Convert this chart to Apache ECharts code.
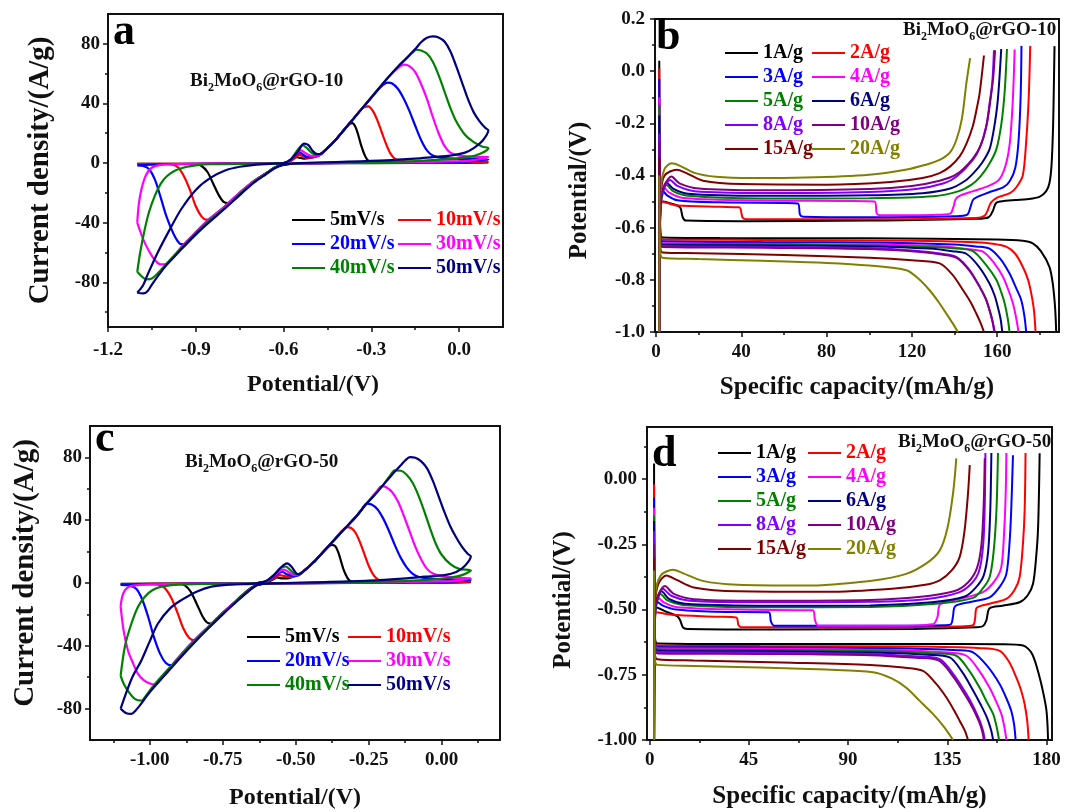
<!DOCTYPE html>
<html><head><meta charset="utf-8">
<script src="https://cdn.jsdelivr.net/npm/echarts@6/dist/echarts.min.js"></script>
<style>html,body{margin:0;padding:0;background:#fff}#c{width:1080px;height:812px}</style>
</head><body><div id="c"></div>
<script>
const FONT = '"Liberation Serif","Times New Roman",serif';

// ---------- categories / colours ----------
const cvRates = ['5mV/s','10mV/s','20mV/s','30mV/s','40mV/s','50mV/s'];
const cvColors = ['#000000','#ff0000','#0000ff','#ff00ff','#008000','#000080'];
const gcdRates = ['1A/g','2A/g','3A/g','4A/g','5A/g','6A/g','8A/g','10A/g','15A/g','20A/g'];
const gcdColors = ['#000000','#ff0000','#0000ff','#ff00ff','#008000','#000080','#8000ff','#800080','#800000','#808000'];

// ---------- tick labels ----------
const aXTicks = [-1.2,-0.9,-0.6,-0.3,0.0];
const aXMinor = [-1.05,-0.75,-0.45,-0.15];
const aYTicks = [-80,-40,0,40,80];
const aYMinor = [-100,-60,-20,20,60];
const bXTicks = [0,40,80,120,160];
const bXMinor = [20,60,100,140,180];
const bYTicks = [-1.0,-0.8,-0.6,-0.4,-0.2,0.0,0.2];
const bYMinor = [-0.9,-0.7,-0.5,-0.3,-0.1,0.1];
const cXTicks = [-1.0,-0.75,-0.5,-0.25,0.0];
const cXMinor = [-1.125,-0.875,-0.625,-0.375,-0.125,0.125];
const cYTicks = [-80,-40,0,40,80];
const cYMinor = [-60,-20,20,60];
const dXTicks = [0,45,90,135,180];
const dXMinor = [22.5,67.5,112.5,157.5];
const dYTicks = [-1.0,-0.75,-0.5,-0.25,0.0];
const dYMinor = [-0.875,-0.625,-0.375,-0.125,0.125];

// ---------- panel a : CV, Bi2MoO6@rGO-10 (potential V, current A/g) ----------
const cvA5 = [[-1.1,-0.6],[-0.9,-0.5],[-0.7,-0.3],[-0.6,0],[-0.58,1],[-0.565,3],[-0.555,4],[-0.545,3.5],[-0.53,3],[-0.51,3.5],[-0.48,5],[-0.45,10],[-0.42,16],[-0.39,23],[-0.375,26.3],[-0.365,26.8],[-0.355,24.5],[-0.345,19],[-0.335,12],[-0.322,5],[-0.31,1.5],[-0.29,0.5],[-0.2,0.3],[0,0.3],[0.1,0.4],
  [0.05,0.2],[0,0.1],[-0.3,0],[-0.55,-0.2],[-0.6,-1],[-0.63,-3],[-0.66,-7],[-0.7,-12],[-0.74,-19],[-0.77,-24.5],[-0.79,-26.8],[-0.805,-26],[-0.82,-22],[-0.84,-14],[-0.86,-6],[-0.88,-2],[-0.9,-0.8],[-0.95,-0.5],[-1.1,-0.6]];
const cvA10 = [[-1.1,-0.6],[-0.9,-0.5],[-0.7,-0.3],[-0.6,0],[-0.575,1.5],[-0.555,4.5],[-0.545,5.5],[-0.535,4.5],[-0.52,3.5],[-0.5,3.8],[-0.48,5],[-0.45,10],[-0.42,16],[-0.39,23],[-0.36,30],[-0.34,35],[-0.325,37.5],[-0.31,38],[-0.295,35],[-0.28,29],[-0.265,21],[-0.25,13],[-0.235,6.5],[-0.22,3],[-0.2,1.5],[-0.15,0.8],[0,0.8],[0.1,1],
  [0.05,0.4],[-0.2,0.1],[-0.55,-0.2],[-0.6,-1],[-0.63,-3],[-0.66,-7],[-0.7,-12],[-0.75,-20],[-0.8,-29],[-0.83,-34.5],[-0.85,-37.5],[-0.865,-38],[-0.88,-36],[-0.9,-29],[-0.92,-18],[-0.94,-9],[-0.96,-3],[-0.98,-1],[-1.0,-0.6],[-1.1,-0.6]];
const cvA20 = [[-1.1,-1.5],[-1.07,-1.2],[-1.0,-0.8],[-0.8,-0.4],[-0.6,0],[-0.575,2],[-0.555,6],[-0.545,7],[-0.535,6],[-0.52,4],[-0.5,4],[-0.48,5],[-0.45,10],[-0.42,16],[-0.39,23],[-0.36,30],[-0.33,37],[-0.3,44],[-0.28,48.5],[-0.26,52.5],[-0.244,54],[-0.23,53.5],[-0.21,50],[-0.19,43.5],[-0.17,35],[-0.15,25],[-0.13,15.5],[-0.11,8.5],[-0.09,5],[-0.06,3.5],[0,2.8],[0.1,2.5],
  [0.05,1.2],[0,0.8],[-0.2,0.3],[-0.55,-0.2],[-0.6,-1],[-0.63,-3],[-0.66,-7],[-0.7,-12],[-0.75,-20],[-0.8,-29],[-0.85,-37],[-0.9,-46.5],[-0.92,-51.5],[-0.94,-54.5],[-0.955,-54],[-0.975,-48],[-1.0,-36],[-1.02,-23],[-1.04,-11],[-1.06,-4],[-1.08,-2],[-1.1,-1.5]];
const cvA30 = [[-1.1,-40],[-1.095,-28],[-1.085,-17],[-1.07,-8],[-1.05,-3],[-1.02,-1.2],[-0.95,-0.6],[-0.8,-0.4],[-0.6,0],[-0.575,2],[-0.555,6.5],[-0.54,8.5],[-0.528,7],[-0.51,5],[-0.49,4.5],[-0.47,6],[-0.45,10],[-0.42,16],[-0.39,23],[-0.36,30],[-0.33,37],[-0.3,44],[-0.27,51],[-0.24,58],[-0.22,62],[-0.2,65],[-0.187,66],[-0.17,65],[-0.15,61],[-0.13,53],[-0.11,43],[-0.09,31],[-0.07,20],[-0.05,11.5],[-0.03,7],[0,5],[0.05,4.2],[0.1,4],
  [0.05,2],[0,1.3],[-0.2,0.5],[-0.55,-0.2],[-0.6,-1],[-0.63,-3],[-0.66,-7],[-0.7,-12],[-0.75,-20],[-0.8,-29],[-0.85,-37],[-0.9,-46.5],[-0.95,-56.5],[-0.975,-63],[-1.0,-67.5],[-1.02,-68],[-1.04,-65],[-1.06,-59],[-1.08,-51],[-1.1,-40]];
const cvA40 = [[-1.1,-73],[-1.09,-60],[-1.075,-45],[-1.06,-33],[-1.04,-22],[-1.02,-14],[-1.0,-9],[-0.97,-5],[-0.93,-2.5],[-0.9,-1.5],[-0.85,-0.8],[-0.7,-0.4],[-0.6,0],[-0.575,2.5],[-0.555,8],[-0.535,12],[-0.52,10],[-0.505,7],[-0.49,5.5],[-0.47,6.5],[-0.45,10],[-0.42,16],[-0.39,23],[-0.36,30],[-0.33,37],[-0.3,44],[-0.27,51],[-0.24,58],[-0.21,64.5],[-0.18,70],[-0.16,74],[-0.145,76],[-0.13,75.5],[-0.11,73.5],[-0.09,68],[-0.07,59],[-0.05,48],[-0.03,37],[-0.01,28],[0.02,19],[0.05,14],[0.08,11],[0.1,10],
  [0.07,6],[0.03,4],[-0.05,2.5],[-0.2,1],[-0.4,0.4],[-0.55,-0.2],[-0.6,-1],[-0.63,-3],[-0.66,-7],[-0.7,-12.5],[-0.75,-21],[-0.8,-30],[-0.85,-38],[-0.9,-47],[-0.95,-57],[-1.0,-67.5],[-1.03,-74],[-1.05,-77.5],[-1.07,-78],[-1.085,-76],[-1.1,-73]];
const cvA50 = [[-1.1,-87],[-1.08,-82],[-1.065,-75],[-1.03,-60],[-0.99,-45],[-0.95,-31],[-0.9,-18],[-0.85,-10],[-0.8,-5],[-0.75,-2.5],[-0.7,-1.2],[-0.63,-0.3],[-0.6,0],[-0.575,2.5],[-0.55,8],[-0.53,13],[-0.515,12],[-0.5,8],[-0.485,6],[-0.47,6.5],[-0.45,10],[-0.42,16],[-0.39,23],[-0.36,30],[-0.33,37],[-0.3,44],[-0.27,51],[-0.24,58],[-0.21,64.5],[-0.18,70.5],[-0.15,76.5],[-0.13,81],[-0.11,84],[-0.09,85],[-0.07,84.3],[-0.05,81.5],[-0.03,75],[-0.01,65],[0.01,54],[0.03,43],[0.05,34],[0.07,28],[0.09,23.5],[0.1,22],
  [0.08,15],[0.05,10],[0.02,7],[-0.03,5],[-0.09,4],[-0.15,3],[-0.25,1.8],[-0.4,0.8],[-0.55,0],[-0.6,-1.2],[-0.63,-3.5],[-0.66,-7.5],[-0.7,-13],[-0.75,-21.5],[-0.8,-30.5],[-0.85,-39],[-0.9,-48],[-0.95,-58],[-1.0,-68.5],[-1.03,-76],[-1.05,-81.5],[-1.065,-86],[-1.08,-87.5],[-1.1,-87]];

// ---------- panel c : CV, Bi2MoO6@rGO-50 ----------
const cvC5 = [[-1.1,-0.5],[-0.9,-0.4],[-0.7,-0.2],[-0.63,0],[-0.6,0.5],[-0.575,2.5],[-0.565,3.5],[-0.55,3],[-0.53,3],[-0.51,4],[-0.49,5.5],[-0.46,9.5],[-0.43,15],[-0.405,20],[-0.39,22.7],[-0.377,24.3],[-0.365,23.5],[-0.355,20],[-0.345,14],[-0.335,8],[-0.322,3],[-0.31,1],[-0.28,0.4],[0.1,0.5],
  [0,0.1],[-0.3,0],[-0.58,-0.2],[-0.63,-1],[-0.66,-4],[-0.7,-10.5],[-0.74,-17.5],[-0.77,-23],[-0.79,-25.8],[-0.805,-25],[-0.82,-21],[-0.84,-13],[-0.86,-5.5],[-0.88,-1.5],[-0.9,-0.6],[-1.1,-0.5]];
const cvC10 = [[-1.1,-0.8],[-1.0,-0.6],[-0.8,-0.3],[-0.63,0],[-0.6,0.8],[-0.575,3],[-0.555,5],[-0.54,4.5],[-0.52,3.8],[-0.5,4.5],[-0.47,8],[-0.44,13],[-0.41,19],[-0.38,25],[-0.355,30.5],[-0.34,33.5],[-0.326,35.6],[-0.31,35],[-0.295,32],[-0.28,26],[-0.265,18.5],[-0.25,11],[-0.235,5.5],[-0.22,2.5],[-0.2,1.3],[-0.1,0.8],[0.1,1],
  [0.05,0.4],[-0.2,0.1],[-0.58,-0.2],[-0.63,-1],[-0.66,-4.5],[-0.7,-11],[-0.75,-19],[-0.8,-28],[-0.825,-33],[-0.846,-36.5],[-0.865,-35],[-0.885,-29],[-0.905,-19],[-0.925,-10],[-0.945,-4],[-0.965,-1.2],[-1.0,-0.7],[-1.1,-0.8]];
const cvC20 = [[-1.1,-1.2],[-1.07,-1],[-1.0,-0.7],[-0.8,-0.3],[-0.63,0],[-0.6,1],[-0.575,4],[-0.555,6.5],[-0.545,7],[-0.53,5.5],[-0.51,4.5],[-0.49,5],[-0.47,8],[-0.44,13],[-0.41,19],[-0.38,25],[-0.35,31],[-0.32,37],[-0.29,43],[-0.275,46.5],[-0.257,50.6],[-0.24,50],[-0.22,47],[-0.2,41],[-0.18,33],[-0.16,24],[-0.14,16],[-0.12,10],[-0.1,6],[-0.08,4],[-0.04,2.8],[0.1,2],
  [0.05,1],[-0.1,0.4],[-0.58,-0.2],[-0.63,-1],[-0.66,-4.5],[-0.7,-11],[-0.75,-19],[-0.8,-28],[-0.85,-37],[-0.89,-45],[-0.91,-49.5],[-0.926,-52.5],[-0.945,-51],[-0.965,-45],[-0.985,-35],[-1.005,-22],[-1.025,-11],[-1.045,-4],[-1.065,-1.8],[-1.1,-1.2]];
const cvC30 = [[-1.1,-15],[-1.095,-9],[-1.085,-4.5],[-1.07,-2.3],[-1.05,-1.5],[-1.0,-0.8],[-0.8,-0.4],[-0.63,0],[-0.6,1.2],[-0.575,4.5],[-0.555,7.5],[-0.54,8.5],[-0.525,7],[-0.505,5],[-0.49,5],[-0.47,8],[-0.44,13],[-0.41,19],[-0.38,25],[-0.35,31],[-0.32,37],[-0.29,43],[-0.26,50],[-0.24,54.5],[-0.22,59],[-0.206,61.7],[-0.19,61],[-0.17,58],[-0.15,52],[-0.13,43],[-0.11,33],[-0.09,23],[-0.07,15],[-0.05,9],[-0.03,6],[0,4.5],[0.05,3.3],[0.1,3],
  [0.05,1.5],[0,1],[-0.2,0.4],[-0.58,-0.2],[-0.63,-1],[-0.66,-4.5],[-0.7,-11],[-0.75,-19],[-0.8,-28],[-0.85,-37],[-0.9,-47],[-0.94,-56],[-0.965,-61.5],[-0.983,-64.6],[-1.0,-64],[-1.02,-62],[-1.04,-58],[-1.06,-50],[-1.075,-43],[-1.09,-30],[-1.1,-15]];
const cvC40 = [[-1.1,-59],[-1.085,-40],[-1.063,-25.8],[-1.04,-15],[-1.017,-8.7],[-0.99,-4.5],[-0.96,-2.3],[-0.9,-1],[-0.8,-0.5],[-0.63,0],[-0.6,1.3],[-0.575,5],[-0.555,9],[-0.535,10.5],[-0.52,8.5],[-0.505,6],[-0.49,5.3],[-0.47,8],[-0.44,13],[-0.41,19],[-0.38,25],[-0.35,31],[-0.32,37],[-0.29,43],[-0.26,50],[-0.23,56],[-0.2,62.5],[-0.18,67.5],[-0.16,71.7],[-0.14,71.5],[-0.12,69],[-0.1,64],[-0.08,56],[-0.06,46],[-0.04,35],[-0.02,25],[0,18],[0.03,12],[0.06,9],[0.1,8],
  [0.07,5],[0.03,3.5],[-0.05,2],[-0.2,0.8],[-0.58,-0.2],[-0.63,-1],[-0.66,-4.5],[-0.7,-11],[-0.75,-19.5],[-0.8,-28.5],[-0.85,-37.5],[-0.9,-47.5],[-0.95,-57.5],[-0.99,-66],[-1.01,-71],[-1.029,-74.9],[-1.05,-74],[-1.07,-70],[-1.09,-64],[-1.1,-59]];
const cvC50 = [[-1.1,-80],[-1.085,-72],[-1.06,-60],[-1.029,-49.3],[-1.0,-37],[-0.972,-25.8],[-0.93,-16],[-0.892,-10.9],[-0.84,-5.5],[-0.789,-2.3],[-0.72,-1],[-0.652,-0.6],[-0.63,0],[-0.6,1.5],[-0.575,5],[-0.55,10],[-0.53,12.5],[-0.515,10.5],[-0.5,6.5],[-0.49,5.5],[-0.47,8],[-0.44,13],[-0.41,19],[-0.38,25],[-0.35,31],[-0.32,37],[-0.29,43],[-0.26,50],[-0.23,56],[-0.2,62.5],[-0.17,69],[-0.14,75],[-0.125,78],[-0.109,80.2],[-0.09,79.8],[-0.07,77.5],[-0.05,73],[-0.03,65],[-0.01,55],[0.01,45],[0.03,36],[0.05,29],[0.07,23],[0.09,18.5],[0.1,17],
  [0.08,11],[0.05,7],[0.01,5],[-0.057,4],[-0.12,3],[-0.25,1.5],[-0.4,0.6],[-0.58,-0.2],[-0.63,-1.2],[-0.66,-5],[-0.7,-11.5],[-0.75,-20],[-0.8,-29],[-0.85,-38.5],[-0.9,-48.5],[-0.95,-59],[-1.0,-69.5],[-1.03,-77],[-1.05,-81.5],[-1.063,-83.4],[-1.08,-83],[-1.1,-80]];

// ---------- panel b : GCD, Bi2MoO6@rGO-10 (capacity mAh/g, potential V) ----------
const chB1 = [[1.5,-1.0],[1.6,-0.75],[2,-0.55],[3,-0.5],[6,-0.505],[10,-0.515],[11.5,-0.525],[12.5,-0.56],[14,-0.573],[40,-0.575],[100,-0.573],[150,-0.566],[156,-0.56],[158,-0.535],[159.5,-0.505],[163,-0.498],[175,-0.49],[180,-0.481],[183,-0.46],[184.5,-0.43],[185.5,-0.36],[186.2,-0.22],[186.6,-0.05],[186.9,0.096]];
const chB2 = [[1.5,-1.0],[1.6,-0.75],[2,-0.56],[3,-0.5],[5,-0.505],[10,-0.515],[30,-0.52],[39,-0.522],[40.5,-0.56],[42,-0.567],[100,-0.568],[150,-0.563],[154,-0.555],[155.5,-0.535],[157,-0.505],[160,-0.485],[166,-0.468],[169,-0.445],[172,-0.4],[173.6,-0.27],[174.8,-0.1],[175.5,0.097]];
const chB3 = [[1.5,-1.0],[1.6,-0.72],[2,-0.54],[3.4,-0.46],[5,-0.475],[10,-0.495],[30,-0.503],[60,-0.505],[66.5,-0.507],[67.5,-0.55],[69,-0.558],[100,-0.56],[140,-0.556],[146,-0.55],[147.5,-0.52],[149,-0.49],[156,-0.465],[163,-0.445],[166,-0.42],[168.5,-0.37],[170,-0.27],[171,-0.1],[171.4,0.097]];
const chB4 = [[1.5,-1.0],[1.6,-0.72],[2,-0.53],[4.2,-0.449],[6,-0.465],[12,-0.485],[40,-0.495],[90,-0.498],[102.5,-0.5],[103.5,-0.545],[105,-0.552],[130,-0.551],[138,-0.546],[139.5,-0.52],[141,-0.485],[148,-0.462],[156,-0.44],[161,-0.415],[164,-0.36],[166,-0.27],[167.4,-0.1],[168.2,0.083]];
const chB5 = [[1.5,-1.0],[1.6,-0.72],[2,-0.52],[5,-0.436],[8,-0.46],[15,-0.478],[50,-0.488],[100,-0.487],[130,-0.48],[142,-0.46],[148,-0.435],[152,-0.405],[156,-0.36],[159.6,-0.3],[162,-0.2],[163.5,-0.08],[164.6,0.085]];
const chB6 = [[1.5,-1.0],[1.6,-0.72],[2,-0.51],[5,-0.427],[8,-0.45],[15,-0.47],[50,-0.478],[100,-0.476],[125,-0.468],[138,-0.45],[145,-0.42],[149,-0.39],[153,-0.35],[156.4,-0.3],[158.5,-0.22],[160.3,-0.11],[161.9,0.085]];
const chB8 = [[1.5,-1.0],[1.6,-0.7],[2,-0.5],[6.6,-0.417],[10,-0.44],[18,-0.46],[50,-0.467],[100,-0.463],[122,-0.452],[135,-0.43],[141,-0.404],[148.6,-0.34],[152,-0.29],[154.9,-0.21],[156.5,-0.12],[157.7,-0.045],[158.5,0.08]];
const chB10 = [[1.5,-1.0],[1.6,-0.7],[2,-0.49],[7.3,-0.404],[11,-0.43],[20,-0.45],[50,-0.457],[100,-0.452],[120,-0.44],[133,-0.42],[141,-0.395],[148.6,-0.335],[152.5,-0.28],[155.2,-0.2],[157,-0.1],[158.2,-0.02],[159,0.08]];
const chB15 = [[1.5,-1.0],[1.6,-0.68],[2.2,-0.47],[4,-0.4],[9.7,-0.378],[14,-0.39],[22,-0.42],[40,-0.433],[80,-0.435],[110,-0.425],[125,-0.41],[133,-0.391],[138,-0.365],[142.4,-0.327],[145.5,-0.28],[148.6,-0.21],[150.5,-0.14],[151.8,-0.083],[153.8,0.06]];
const chB20 = [[1.5,-1.0],[1.6,-0.66],[2.2,-0.45],[4,-0.375],[7.3,-0.353],[11,-0.362],[18,-0.39],[28,-0.405],[45,-0.41],[70,-0.408],[100,-0.397],[117,-0.378],[126,-0.36],[133,-0.34],[138,-0.31],[141,-0.26],[143.5,-0.18],[145.5,-0.05],[147.3,0.05]];
const diB1 = [[1.5,0.04],[1.6,-0.3],[1.9,-0.6],[3,-0.638],[30,-0.64],[100,-0.641],[160,-0.645],[172,-0.65],[176.7,-0.66],[180.5,-0.69],[184.5,-0.75],[186,-0.81],[186.9,-0.878],[187.4,-0.94],[187.7,-1.0]];
const diB2 = [[1.5,0.01],[1.6,-0.3],[1.9,-0.6],[3,-0.645],[50,-0.647],[120,-0.65],[150,-0.656],[158,-0.662],[164.2,-0.673],[168.5,-0.7],[172,-0.75],[174.5,-0.8],[176,-0.853],[177.3,-0.92],[178,-1.0]];
const diB3 = [[1.5,-0.03],[1.6,-0.3],[1.9,-0.6],[3,-0.652],[50,-0.655],[110,-0.658],[140,-0.665],[150,-0.672],[156.4,-0.68],[161.5,-0.72],[165.8,-0.776],[168.8,-0.83],[171.3,-0.878],[172.8,-0.94],[173.6,-1.0]];
const diB4 = [[1.5,-0.1],[1.6,-0.35],[1.9,-0.62],[3,-0.66],[50,-0.662],[100,-0.665],[135,-0.672],[146,-0.682],[153.3,-0.692],[158.5,-0.735],[162.7,-0.788],[165.3,-0.84],[167.4,-0.891],[169,-0.95],[170,-1.0]];
const diB5 = [[1.5,-0.13],[1.6,-0.35],[1.9,-0.62],[3,-0.663],[50,-0.665],[100,-0.668],[130,-0.675],[141,-0.68],[148.6,-0.69],[154.5,-0.74],[159.6,-0.8],[162,-0.85],[163.5,-0.89],[165,-0.95],[165.8,-1.0]];
const diB6 = [[1.5,-0.17],[1.6,-0.38],[1.9,-0.63],[3,-0.666],[50,-0.668],[100,-0.672],[128,-0.68],[139,-0.69],[145.5,-0.7],[151.5,-0.75],[156.4,-0.814],[158.8,-0.86],[160.3,-0.904],[161.6,-0.95],[162.4,-1.0]];
const diB8 = [[1.5,-0.24],[1.6,-0.42],[1.9,-0.64],[3,-0.67],[50,-0.673],[100,-0.678],[124,-0.69],[134,-0.7],[140.8,-0.712],[146.8,-0.76],[151.8,-0.827],[154.5,-0.87],[156.4,-0.917],[157.8,-0.96],[158.6,-1.0]];
const diB10 = [[1.5,-0.27],[1.6,-0.44],[1.9,-0.645],[3,-0.674],[50,-0.677],[100,-0.682],[124,-0.693],[134,-0.703],[141,-0.716],[147,-0.765],[152,-0.83],[154.8,-0.875],[156.6,-0.92],[158,-0.965],[158.9,-1.0]];
const diB15 = [[1.5,-0.33],[1.6,-0.48],[1.9,-0.66],[3,-0.695],[20,-0.698],[60,-0.705],[100,-0.715],[120,-0.725],[133,-0.737],[139,-0.78],[144,-0.84],[147.5,-0.885],[150.2,-0.929],[152.2,-0.965],[153.8,-1.0]];
const diB20 = [[1.5,-0.4],[1.6,-0.52],[1.9,-0.68],[3,-0.715],[20,-0.72],[50,-0.727],[80,-0.735],[100,-0.745],[117.4,-0.763],[123,-0.795],[128.3,-0.84],[132.5,-0.885],[136.1,-0.929],[139,-0.965],[141.6,-1.0]];

// ---------- panel d : GCD, Bi2MoO6@rGO-50 ----------
const chD1 = [[2,-1.0],[2.1,-0.75],[2.4,-0.55],[3,-0.491],[8,-0.51],[12.5,-0.525],[13.8,-0.54],[15.1,-0.568],[17,-0.574],[60,-0.576],[120,-0.574],[148,-0.568],[151.2,-0.563],[152.7,-0.542],[154.2,-0.495],[160,-0.485],[167.8,-0.472],[171.5,-0.445],[173.9,-0.401],[175.3,-0.3],[176.2,-0.183],[176.9,0.099]];
const chD2 = [[2,-1.0],[2.1,-0.75],[2.4,-0.56],[3,-0.51],[10,-0.52],[30,-0.527],[39.3,-0.53],[40.3,-0.56],[42,-0.568],[100,-0.568],[140,-0.565],[146.7,-0.56],[147.6,-0.535],[148.4,-0.493],[155,-0.476],[161.8,-0.459],[165.5,-0.425],[167.8,-0.376],[169.3,-0.25],[170.1,-0.119],[170.5,0.1]];
const chD3 = [[2,-1.0],[2.1,-0.73],[2.4,-0.54],[3.5,-0.47],[6,-0.485],[12,-0.5],[30,-0.508],[54,-0.51],[55,-0.545],[56.5,-0.562],[100,-0.562],[134,-0.56],[136.8,-0.555],[137.6,-0.525],[138.6,-0.487],[146,-0.47],[154.2,-0.453],[159,-0.41],[161.8,-0.363],[163.2,-0.25],[164,-0.119],[164.8,0.092]];
const chD4 = [[2,-1.0],[2.1,-0.73],[2.4,-0.53],[4,-0.455],[6,-0.47],[12,-0.49],[40,-0.5],[74,-0.503],[75,-0.54],[76.5,-0.562],[110,-0.562],[128.5,-0.556],[130.5,-0.53],[131.8,-0.48],[140,-0.46],[151.2,-0.433],[156.5,-0.39],[159.5,-0.337],[160.8,-0.2],[161.5,-0.055],[161.8,0.1]];
const chD5 = [[2,-1.0],[2.1,-0.72],[2.4,-0.52],[5,-0.44],[8,-0.465],[15,-0.482],[50,-0.491],[100,-0.49],[130,-0.478],[146.7,-0.455],[151,-0.42],[154.2,-0.376],[156,-0.28],[157.3,-0.119],[158,0.1]];
const chD6 = [[2,-1.0],[2.1,-0.72],[2.4,-0.51],[5.5,-0.43],[9,-0.46],[16,-0.478],[50,-0.485],[100,-0.484],[128,-0.472],[143,-0.45],[148,-0.415],[151.5,-0.37],[153.5,-0.28],[154.5,-0.12],[155,0.1]];
const chD8 = [[2,-1.0],[2.1,-0.7],[2.4,-0.5],[6,-0.42],[10,-0.448],[18,-0.466],[50,-0.472],[100,-0.47],[125,-0.46],[140,-0.435],[146,-0.4],[149.5,-0.35],[151.3,-0.25],[152,-0.1],[152.3,0.1]];
const chD10 = [[2,-1.0],[2.1,-0.7],[2.4,-0.49],[7,-0.41],[11,-0.44],[20,-0.46],[50,-0.466],[100,-0.463],[122,-0.452],[138,-0.43],[144.5,-0.395],[148.5,-0.34],[150.5,-0.25],[151.5,-0.1],[152,0.08]];
const chD15 = [[2,-1.0],[2.1,-0.68],[2.5,-0.47],[4,-0.4],[7.6,-0.369],[12,-0.385],[20,-0.415],[40,-0.43],[80,-0.432],[110,-0.42],[125,-0.405],[131.6,-0.388],[137,-0.35],[140.6,-0.299],[142.8,-0.2],[144.4,-0.055],[145.2,0.054]];
const chD20 = [[2,-1.0],[2.1,-0.66],[2.5,-0.45],[5,-0.37],[10.6,-0.347],[15,-0.36],[24,-0.39],[40,-0.405],[70,-0.408],[100,-0.39],[116.4,-0.363],[126,-0.32],[131.6,-0.273],[135,-0.19],[137.6,-0.055],[139.1,0.08]];
const diD1 = [[2,0.06],[2.1,-0.3],[2.4,-0.6],[3.5,-0.63],[40,-0.632],[120,-0.632],[160,-0.633],[169.4,-0.638],[173.5,-0.67],[176.9,-0.76],[178.8,-0.83],[180,-0.888],[180.5,-0.95],[180.7,-1.0]];
const diD2 = [[2,-0.02],[2.1,-0.3],[2.4,-0.61],[3.5,-0.638],[50,-0.64],[120,-0.642],[150,-0.648],[158.8,-0.658],[163,-0.7],[166.3,-0.76],[168.5,-0.81],[170.1,-0.863],[171.3,-0.93],[171.9,-1.0]];
const diD3 = [[2,-0.07],[2.1,-0.32],[2.4,-0.62],[3.5,-0.643],[50,-0.645],[110,-0.648],[140,-0.656],[146.7,-0.664],[153,-0.715],[158.8,-0.786],[161.8,-0.84],[164,-0.888],[165.3,-0.94],[166,-1.0]];
const diD4 = [[2,-0.11],[2.1,-0.35],[2.4,-0.63],[3.5,-0.648],[50,-0.65],[110,-0.655],[135,-0.665],[143.7,-0.677],[149.5,-0.735],[154.2,-0.8],[157.3,-0.855],[159.5,-0.9],[160.9,-0.95],[161.8,-1.0]];
const diD5 = [[2,-0.14],[2.1,-0.36],[2.4,-0.63],[3.5,-0.653],[50,-0.655],[105,-0.66],[130,-0.668],[139.1,-0.677],[145,-0.735],[149.7,-0.8],[153,-0.855],[155.8,-0.9],[157.4,-0.95],[158.5,-1.0]];
const diD6 = [[2,-0.16],[2.1,-0.38],[2.4,-0.64],[3.5,-0.658],[50,-0.66],[100,-0.665],[126,-0.673],[136.1,-0.683],[141.8,-0.74],[146.7,-0.81],[150.2,-0.865],[153,-0.914],[154.8,-0.96],[155.8,-1.0]];
const diD8 = [[2,-0.2],[2.1,-0.4],[2.4,-0.645],[3.5,-0.663],[50,-0.665],[100,-0.67],[122,-0.68],[131.6,-0.69],[138,-0.75],[143.7,-0.824],[147,-0.875],[149.7,-0.926],[151.2,-0.965],[152,-1.0]];
const diD10 = [[2,-0.25],[2.1,-0.43],[2.4,-0.65],[3.5,-0.668],[50,-0.67],[100,-0.675],[121,-0.685],[131,-0.695],[137.5,-0.755],[143.3,-0.83],[146.7,-0.88],[149.4,-0.93],[150.8,-0.965],[151.6,-1.0]];
const diD15 = [[2,-0.3],[2.1,-0.47],[2.4,-0.67],[3.5,-0.69],[20,-0.695],[60,-0.703],[100,-0.712],[115,-0.722],[124,-0.735],[130,-0.785],[134.6,-0.837],[138,-0.885],[140.6,-0.926],[143,-0.965],[144.4,-1.0]];
const diD20 = [[2,-0.35],[2.1,-0.5],[2.4,-0.69],[3.5,-0.712],[20,-0.716],[50,-0.722],[80,-0.73],[101.3,-0.74],[110,-0.765],[116.4,-0.8],[122.5,-0.85],[128.5,-0.9],[133.5,-0.95],[137.6,-1.0]];

// ---------- build option ----------
const cvAData = [cvA5,cvA10,cvA20,cvA30,cvA40,cvA50];
const cvCData = [cvC5,cvC10,cvC20,cvC30,cvC40,cvC50];
const chBData = [chB1,chB2,chB3,chB4,chB5,chB6,chB8,chB10,chB15,chB20];
const diBData = [diB1,diB2,diB3,diB4,diB5,diB6,diB8,diB10,diB15,diB20];
const chDData = [chD1,chD2,chD3,chD4,chD5,chD6,chD8,chD10,chD15,chD20];
const diDData = [diD1,diD2,diD3,diD4,diD5,diD6,diD8,diD10,diD15,diD20];

const tickFont = {fontFamily: FONT, fontWeight: 'bold', fontSize: 19, color: '#111'};
function axisPair(dim, gi, min, max, ticks, minor, fmt, margin, name, nameGap, nameSize, namePad) {
  const pos = dim === 'x' ? 'bottom' : 'left';
  const main = {
    type: 'value', gridIndex: gi, min: min, max: max, position: pos,
    splitLine: {show: false},
    axisLine: {show: true, onZero: false, lineStyle: {color: '#111', width: 2}},
    axisTick: {show: true, inside: false, length: 5, customValues: ticks, lineStyle: {color: '#111', width: 1.5}},
    axisLabel: Object.assign({show: true, customValues: ticks, formatter: fmt, margin: margin}, tickFont),
    name: name, nameLocation: 'middle', nameGap: nameGap, nameMoveOverlap: false,
    nameTextStyle: {fontFamily: FONT, fontWeight: 'bold', fontSize: nameSize, color: '#111', padding: namePad}
  };
  const mnr = {
    type: 'value', gridIndex: gi, min: min, max: max, position: pos,
    splitLine: {show: false},
    axisLine: {show: false, onZero: false},
    axisTick: {show: true, inside: false, length: 3, customValues: minor, lineStyle: {color: '#111', width: 1.5}},
    axisLabel: {show: false}
  };
  return [main, mnr];
}
const f1 = v => v.toFixed(1), f2 = v => v.toFixed(2), f0 = v => String(Math.round(v));

const xAxes = [].concat(
  axisPair('x', 0, -1.2, 0.15, aXTicks, aXMinor, f1, 14, 'Potential/(V)', 46, 24, [0,0,0,15]),
  axisPair('x', 1, -0.5, 189, bXTicks, bXMinor, f0, 11, 'Specific capacity/(mAh/g)', 43, 25, 0),
  axisPair('x', 2, -1.205, 0.2, cXTicks, cXMinor, f2, 11, 'Potential/(V)', 46, 24, 0),
  axisPair('x', 3, -1.2, 182.5, dXTicks, dXMinor, f0, 11, 'Specific capacity/(mAh/g)', 44, 25, 0)
);
const yAxes = [].concat(
  axisPair('y', 0, -110, 100, aYTicks, aYMinor, f0, 8, 'Current density/(A/g)', 53, 29, 0),
  axisPair('y', 1, -1.0, 0.2, bYTicks, bYMinor, f1, 10, 'Potential/(V)', 63, 25, [0,30,0,0]),
  axisPair('y', 2, -100, 100, cYTicks, cYMinor, f0, 8, 'Current density/(A/g)', 50, 29, [0,0,0,20]),
  axisPair('y', 3, -1.0, 0.2, dYTicks, dYMinor, f2, 10, 'Potential/(V)', 71, 25, [0,33,0,0])
);

const series = [];
function addLines(names, colors, curves, axisIdx, width) {
  curves.forEach((c, i) => {
    series.push({
      type: 'line', name: names[i], xAxisIndex: axisIdx, yAxisIndex: axisIdx, data: c,
      symbol: 'none', showSymbol: false, smooth: 0.3, clip: true, silent: true,
      lineStyle: {width: width, color: colors[i]}, itemStyle: {color: colors[i]},
      emphasis: {disabled: true}
    });
  });
}
addLines(cvRates, cvColors, cvAData, 0, 2.2);
addLines(gcdRates, gcdColors, chBData, 2, 2);
addLines(gcdRates, gcdColors, diBData, 2, 2);
addLines(cvRates, cvColors, cvCData, 4, 2.2);
addLines(gcdRates, gcdColors, chDData, 6, 2);
addLines(gcdRates, gcdColors, diDData, 6, 2);

function legend(idxs, names, colors, left, top) {
  return {
    orient: 'vertical', left: left, top: top, padding: 0, itemGap: 4, itemWidth: 33, itemHeight: 2,
    icon: 'rect', selectedMode: false,
    data: idxs.map(i => ({name: names[i], textStyle: {color: colors[i]}})),
    textStyle: {fontFamily: FONT, fontWeight: 'bold', fontSize: 20, lineHeight: 20}
  };
}
const legends = [
  legend([0,2,4], cvRates, cvColors, 292, 210),
  legend([1,3,5], cvRates, cvColors, 398, 210),
  legend([0,2,4,6,8], gcdRates, gcdColors, 725, 43),
  legend([1,3,5,7,9], gcdRates, gcdColors, 812, 43),
  legend([0,2,4], cvRates, cvColors, 247, 627),
  legend([1,3,5], cvRates, cvColors, 348, 627),
  legend([0,2,4,6,8], gcdRates, gcdColors, 718, 443),
  legend([1,3,5,7,9], gcdRates, gcdColors, 808, 443)
];

function letter(t, x, y) {
  return {type: 'text', x: x, y: y, silent: true, z: 100,
    style: {text: t, fontFamily: FONT, fontWeight: 'bold', fontSize: 44, fill: '#000', align: 'left', verticalAlign: 'middle'}};
}
function sample(t, x, y) {
  return {type: 'text', x: x, y: y, silent: true, z: 100,
    style: {text: t, align: 'left', verticalAlign: 'middle', fill: '#111',
      rich: {
        m: {fontFamily: FONT, fontWeight: 'bold', fontSize: 19, lineHeight: 20, verticalAlign: 'top', fill: '#111'},
        s: {fontFamily: FONT, fontWeight: 'bold', fontSize: 12, lineHeight: 32, verticalAlign: 'middle', fill: '#111'}
      }}};
}
const graphics = [
  letter('a', 113, 33), letter('b', 656, 38), letter('c', 95, 440), letter('d', 652, 455),
  sample('{m|Bi}{s|2}{m|MoO}{s|6}{m|@rGO-10}', 190, 88),
  sample('{m|Bi}{s|2}{m|MoO}{s|6}{m|@rGO-10}', 903, 37),
  sample('{m|Bi}{s|2}{m|MoO}{s|6}{m|@rGO-50}', 185, 469),
  sample('{m|Bi}{s|2}{m|MoO}{s|6}{m|@rGO-50}', 898, 449)
];

const gridBase = {show: true, borderColor: '#111', borderWidth: 2, backgroundColor: 'transparent', containLabel: false, outerBoundsMode: 'none'};
const option = {
  backgroundColor: '#ffffff',
  animation: false,
  grid: [
    Object.assign({left: 108, top: 14, width: 395, height: 313}, gridBase),
    Object.assign({left: 655, top: 19, width: 404, height: 313}, gridBase),
    Object.assign({left: 90, top: 426, width: 410, height: 314}, gridBase),
    Object.assign({left: 647, top: 427, width: 405, height: 313}, gridBase)
  ],
  xAxis: xAxes,
  yAxis: yAxes,
  legend: legends,
  graphic: graphics,
  series: series
};
const chart = echarts.init(document.getElementById('c'), null, {renderer: 'canvas'});
chart.setOption(option);
</script></body></html>
